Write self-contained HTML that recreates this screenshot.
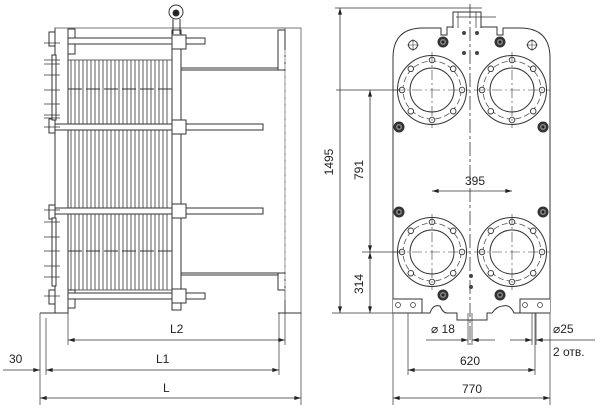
<!DOCTYPE html>
<html><head><meta charset="utf-8"><style>html,body{margin:0;padding:0;background:#fff}svg{display:block}text{font-family:"Liberation Sans",sans-serif;fill:#222}</style></head><body>
<svg width="600" height="411" viewBox="0 0 600 411" xmlns="http://www.w3.org/2000/svg">
<defs>
<marker id="a" viewBox="0 0 10 6" refX="10" refY="3" markerWidth="10" markerHeight="4" orient="auto-start-reverse" markerUnits="userSpaceOnUse"><path d="M0,0L10,3L0,6z" fill="#222"/></marker>
<g id="port">
<circle r="34.5" fill="none" stroke="#333" stroke-width="1"/>
<circle r="29" fill="none" stroke="#555" stroke-width="0.8" stroke-dasharray="6,3"/>
<circle r="22" fill="none" stroke="#333" stroke-width="1"/>
<g fill="#fff" stroke="#333" stroke-width="0.9">
<circle cx="0" cy="-30" r="2.8"/><circle cx="0" cy="30" r="2.8"/><circle cx="-30" cy="0" r="2.8"/><circle cx="30" cy="0" r="2.8"/>
<circle cx="-21.2" cy="-21.2" r="2.8"/><circle cx="21.2" cy="-21.2" r="2.8"/><circle cx="-21.2" cy="21.2" r="2.8"/><circle cx="21.2" cy="21.2" r="2.8"/>
</g>
<path d="M-38,0H38M0,-38V38" stroke="#333" stroke-width="0.6" stroke-dasharray="10,3,2,3"/>
</g>
<g id="bolt"><circle r="5.5" fill="#333"/><circle r="3" fill="#888"/><circle r="1.5" fill="#222"/></g>
</defs>
<g stroke="#333" stroke-width="1" fill="none">
<!-- LEFT VIEW -->
<rect x="55" y="28" width="13" height="285"/>
<rect x="68" y="29" width="7" height="25"/>
<rect x="68" y="290" width="7" height="18"/>
<line x1="55" y1="28" x2="301" y2="28" stroke="#777"/>
<rect x="285" y="28" width="16" height="285" stroke="#777"/>
<rect x="278" y="30" width="7" height="40"/>
<rect x="278" y="273" width="7" height="17"/>
<line x1="285" y1="50" x2="285" y2="290" stroke="#999" stroke-dasharray="5,2"/>
<rect x="172" y="30" width="9" height="280"/>
<line x1="181" y1="68" x2="278" y2="68"/><line x1="181" y1="70" x2="278" y2="70"/>
<line x1="181" y1="273" x2="278" y2="273"/><line x1="181" y1="275" x2="278" y2="275"/>
<!-- plates -->
<g stroke-width="0.8">
<line x1="68" y1="60" x2="172" y2="60"/><line x1="68" y1="290" x2="172" y2="290"/>
<path d="M71,60V290M75,60V290M79,60V290M83,60V290M87,60V290M91,60V290M95,60V290M99,60V290M103,60V290M107,60V290M111,60V290M115,60V290M119,60V290M123,60V290M127,60V290M131,60V290M135,60V290M139,60V290M143,60V290M147,60V290M151,60V290M155,60V290M159,60V290M163,60V290M167,60V290"/>
</g>
<line x1="68" y1="89" x2="172" y2="89" stroke-dasharray="14,4"/>
<line x1="68" y1="251" x2="172" y2="251" stroke-dasharray="14,4"/>
<!-- rods -->
<g fill="#fff">
<rect x="68" y="38" width="137" height="6"/>
<rect x="55" y="124" width="208" height="6"/>
<rect x="55" y="208" width="208" height="6"/>
<rect x="68" y="293" width="137" height="6"/>
</g>
<rect x="172" y="35" width="14" height="14" fill="#fff"/>
<rect x="172" y="120" width="14" height="14" fill="#fff"/>
<rect x="172" y="204" width="14" height="14" fill="#fff"/>
<rect x="172" y="289" width="14" height="14" fill="#fff"/>
<!-- nuts left -->
<g fill="#fff">
<rect x="49" y="32" width="6" height="14"/><rect x="49" y="119" width="6" height="14"/>
<rect x="49" y="205" width="6" height="14"/><rect x="49" y="290" width="6" height="14"/>
<rect x="52" y="55" width="4" height="65"/><rect x="52" y="218" width="4" height="68"/>
</g>
<path d="M44,43H60M44,60H60M44,64H60M44,75H60M44,90H60M44,104H60M44,115H60M44,118H60M44,127H60M44,210H60M44,222H60M44,237H60M44,251H60M44,266H60M44,277H60M44,296H60" stroke-width="0.7"/>
<!-- roller -->
<circle cx="176" cy="12" r="7"/><circle cx="176" cy="13" r="3" fill="#222"/>
<path d="M173,19V34M180,19V34"/>
<!-- base -->
<line x1="40" y1="313" x2="68" y2="313"/><line x1="278" y1="313" x2="301" y2="313"/>
<path d="M40,313V405M46,318V375M68,313V345M285,300V345M279,313V375M301,313V405" stroke-width="0.7"/>
<!-- dims left -->
<line x1="68" y1="340" x2="285" y2="340" marker-start="url(#a)" marker-end="url(#a)" stroke-width="0.8"/>
<line x1="46" y1="370" x2="279" y2="370" marker-start="url(#a)" marker-end="url(#a)" stroke-width="0.8"/>
<line x1="3" y1="370" x2="40" y2="370" marker-end="url(#a)" stroke-width="0.8"/>
<line x1="40" y1="398" x2="301" y2="398" marker-start="url(#a)" marker-end="url(#a)" stroke-width="0.8"/>

<!-- RIGHT VIEW -->
<path d="M393,313V58Q393,28 423,28H441V35H447V27H497V35H503V28H520Q550,28 550,58V313"/>
<path d="M393,299H422V313H393M550,299H520V313H550" fill="#fff"/>
<path d="M422,313H430Q433,304 440,306Q443,313 447,313H457V320H487V313H492Q497,306 503,306Q510,304 514,313H520"/>
<path d="M453,28V12H481V28" fill="#fff"/><path d="M458,28V12M476,28V12" stroke-width="0.7"/>
<path d="M456,17H496" stroke-width="0.8"/>
<line x1="470" y1="4" x2="470" y2="345" stroke-dasharray="14,3,3,3" stroke-width="0.8"/>
<use href="#port" x="432" y="90"/><use href="#port" x="512" y="90"/>
<use href="#port" x="432" y="252"/><use href="#port" x="512" y="252"/>
<g stroke="none"><use href="#bolt" x="443" y="42"/><use href="#bolt" x="500" y="42"/>
<use href="#bolt" x="399" y="127"/><use href="#bolt" x="543" y="127"/>
<use href="#bolt" x="399" y="212"/><use href="#bolt" x="543" y="212"/>
<use href="#bolt" x="443" y="295"/><use href="#bolt" x="500" y="295"/></g>
<circle cx="413" cy="45" r="4.5"/><path d="M407,45H419M413,39V51" stroke-width="0.6"/>
<circle cx="532" cy="45" r="4.5"/><path d="M526,45H538M532,39V51" stroke-width="0.6"/>
<g fill="#444" stroke="none"><circle cx="464" cy="33" r="2"/><circle cx="477" cy="33" r="2"/><circle cx="464" cy="53" r="2"/><circle cx="477" cy="53" r="2"/><circle cx="471" cy="276" r="2"/><circle cx="471" cy="287" r="2"/></g>
<g fill="#fff" stroke-width="0.7"><circle cx="398" cy="305" r="2.5"/><circle cx="413" cy="305" r="2.5"/><circle cx="525" cy="305" r="2.5"/><circle cx="540" cy="305" r="2.5"/></g>
<!-- dims right -->
<path d="M335,8H482M336,90H400M362,252H400M332,313H393" stroke-width="0.7"/>
<line x1="340" y1="8" x2="340" y2="313" marker-start="url(#a)" marker-end="url(#a)" stroke-width="0.8"/>
<line x1="370" y1="90" x2="370" y2="252" marker-start="url(#a)" marker-end="url(#a)" stroke-width="0.8"/>
<line x1="370" y1="252" x2="370" y2="313" marker-start="url(#a)" marker-end="url(#a)" stroke-width="0.8"/>
<line x1="432" y1="191" x2="512" y2="191" marker-start="url(#a)" marker-end="url(#a)" stroke-width="0.8"/>
<path d="M408,313V375M535,313V375M393,313V405M550,313V405M468,313V345M472,313V345M532,313V345M536,313V345" stroke-width="0.7"/>
<line x1="426" y1="340" x2="468" y2="340" marker-end="url(#a)" stroke-width="0.8"/>
<line x1="472" y1="340" x2="495" y2="340" stroke-width="0.8" marker-start="url(#a)"/>
<line x1="510" y1="340" x2="532" y2="340" marker-end="url(#a)" stroke-width="0.8"/>
<line x1="536" y1="340" x2="595" y2="340" marker-start="url(#a)" stroke-width="0.8"/>
<line x1="408" y1="370" x2="535" y2="370" marker-start="url(#a)" marker-end="url(#a)" stroke-width="0.8"/>
<line x1="393" y1="398" x2="550" y2="398" marker-start="url(#a)" marker-end="url(#a)" stroke-width="0.8"/>
</g>
<g font-size="12">
<text x="170" y="333">L2</text>
<text x="156" y="363">L1</text>
<text x="163" y="392">L</text>
<text x="9" y="363">30</text>
<text x="475" y="185" text-anchor="middle">395</text>
<text x="470" y="365" text-anchor="middle">620</text>
<text x="472" y="393" text-anchor="middle">770</text>
<text x="431" y="333">⌀ 18</text>
<text x="553" y="333">⌀25</text>
<text x="553" y="356">2 отв.</text>
<text transform="translate(333,162) rotate(-90)" text-anchor="middle">1495</text>
<text transform="translate(363,170) rotate(-90)" text-anchor="middle">791</text>
<text transform="translate(363,284) rotate(-90)" text-anchor="middle">314</text>
</g>
</svg>
</body></html>
